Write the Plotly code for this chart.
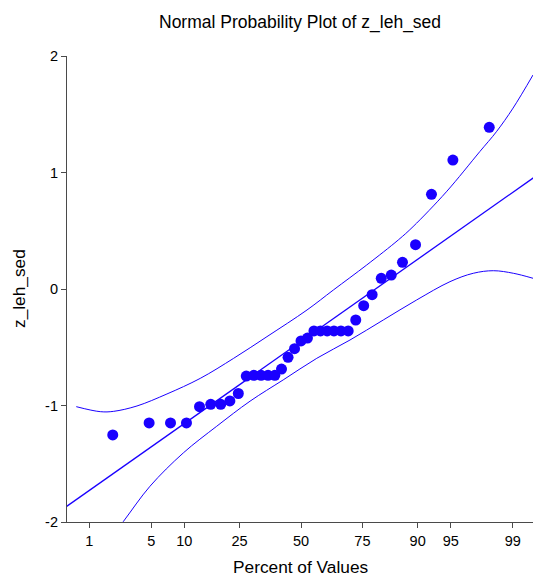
from statistics import NormalDist
import plotly.graph_objects as go

# Sorted sample values of z_leh_sed
values = [
    -1.253, -1.150, -1.150, -1.150, -1.010, -0.990, -0.990, -0.961, -0.897,
    -0.747, -0.741, -0.741, -0.741, -0.741, -0.687, -0.586, -0.512, -0.446,
    -0.421, -0.360, -0.360, -0.360, -0.360, -0.360, -0.360, -0.266, -0.143,
    -0.049, 0.092, 0.120, 0.229, 0.380, 0.813, 1.107, 1.388,
]

# Reference line (intercept, slope in normal-score units)
fit_intercept = -0.45
fit_slope = 0.55

# Confidence band curves, given at normal scores
upper_z = [-2.469, -2.205, -2.058, -1.802, -1.473, -1.107, -0.740, -0.374,
           0.066, 0.355, 0.722, 1.069, 1.231, 1.597, 1.964, 2.147, 2.330, 2.549]
upper_y = [-1.010, -1.053, -1.050, -1.004, -0.901, -0.767, -0.595, -0.409,
           -0.180, -0.009, 0.206, 0.421, 0.535, 0.834, 1.179, 1.350, 1.553, 1.837]
lower_z = [-2.200, -1.953, -1.659, -1.293, -0.926, -0.560, -0.195, 0.173,
           0.538, 0.904, 1.271, 1.637, 1.893, 2.113, 2.333, 2.549]
lower_y = [-2.250, -1.997, -1.693, -1.407, -1.178, -0.963, -0.780, -0.595,
           -0.438, -0.266, -0.094, 0.063, 0.135, 0.157, 0.135, 0.092]

# Axis ticks
pct_ticks = [1, 5, 10, 25, 50, 75, 90, 95, 99]
y_ticks = [-2, -1, 0, 1, 2]
y_tick_text = ["-2", "-1", "0", "1", "2"]

nd = NormalDist()
n = len(values)
scores = [nd.inv_cdf((i - 0.3175) / (n + 0.365)) for i in range(1, n + 1)]
x_range = [-2.571, 2.549]

BLUE = "#1A00FF"
AXIS = "#4a4a4a"
FONT = "Liberation Sans, Arial, sans-serif"

fig = go.Figure()

fig.add_trace(go.Scatter(
    x=upper_z, y=upper_y, mode="lines",
    line=dict(color=BLUE, width=1, shape="spline", smoothing=1.0),
    hoverinfo="skip",
))
fig.add_trace(go.Scatter(
    x=lower_z, y=lower_y, mode="lines",
    line=dict(color=BLUE, width=1, shape="spline", smoothing=1.0),
    hoverinfo="skip",
))
fig.add_trace(go.Scatter(
    x=[x_range[0] - 0.1, x_range[1] + 0.1],
    y=[fit_intercept + fit_slope * (x_range[0] - 0.1),
       fit_intercept + fit_slope * (x_range[1] + 0.1)],
    mode="lines", line=dict(color=BLUE, width=1.3),
    hoverinfo="skip",
))
fig.add_trace(go.Scatter(
    x=scores, y=values, mode="markers",
    marker=dict(color=BLUE, size=11, line=dict(width=0)),
))

fig.update_layout(
    width=533, height=576,
    margin=dict(l=67, r=0, t=56, b=54),
    paper_bgcolor="white", plot_bgcolor="white",
    showlegend=False,
    font=dict(family=FONT, color="black"),
    xaxis=dict(
        range=x_range, showgrid=False, zeroline=False,
        showline=True, linecolor=AXIS, linewidth=1.2,
        ticks="outside", ticklen=5, tickcolor=AXIS, tickwidth=1.2,
        tickvals=[nd.inv_cdf(p / 100) for p in pct_ticks],
        ticktext=[str(p) for p in pct_ticks],
        tickfont=dict(size=14.5, family=FONT, color="black"),
    ),
    yaxis=dict(
        range=[-2, 2], showgrid=False, zeroline=False,
        showline=True, linecolor=AXIS, linewidth=1.2,
        ticks="outside", ticklen=5, tickcolor=AXIS, tickwidth=1.2,
        tickvals=y_ticks, ticktext=y_tick_text,
        tickfont=dict(size=14.5, family=FONT, color="black"),
    ),
    annotations=[
        dict(text="Normal Probability Plot of z_leh_sed", xref="paper", yref="paper",
             x=0.5, y=1, yshift=34, xanchor="center", yanchor="middle",
             showarrow=False, font=dict(size=17.5, family=FONT, color="black")),
        dict(text="Percent of Values", xref="paper", yref="paper",
             x=0.5, y=0, yshift=-45, xanchor="center", yanchor="middle",
             showarrow=False, font=dict(size=17.3, family=FONT, color="black")),
        dict(text="z_leh_sed", xref="paper", yref="paper",
             x=0, y=0.5, xshift=-48, xanchor="center", yanchor="middle",
             textangle=-90, showarrow=False,
             font=dict(size=17.3, family=FONT, color="black")),
    ],
)

fig.write_html("out.html")
